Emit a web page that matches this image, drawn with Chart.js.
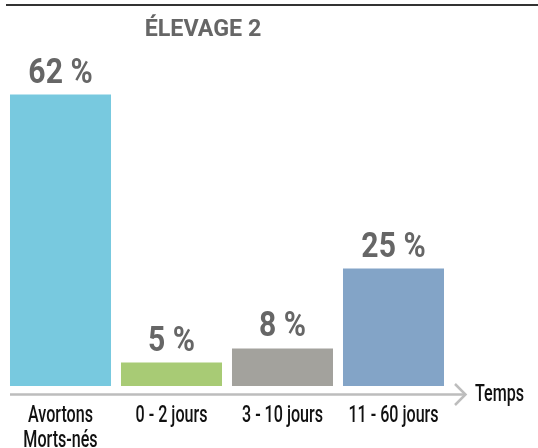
<!DOCTYPE html>
<html>
<head>
<meta charset="utf-8">
<script src="https://cdn.jsdelivr.net/npm/chart.js@4/dist/chart.umd.min.js"></script>
<style>
    html, body { margin: 0; padding: 0; background: #fff; }
    #wrap { width: 538px; height: 448px; position: relative; }
</style>
</head>
<body>
<div id="wrap"><canvas id="chart" width="538" height="448"></canvas></div>
<script>
const categories = [['Avortons', 'Morts-nés'], '0 - 2 jours', '3 - 10 jours', '11 - 60 jours']
const values = [62, 5, 8, 25]
const barColors = ['#78c9df', '#a8cb75', '#a3a29d', '#83a4c7']
const chartTitle = 'ÉLEVAGE 2'
const axisName = 'Temps'

// the original uses a condensed DIN-like face, so squeeze a normal one
function condensedText(ctx, text, x, y, squeeze) {
    ctx.save()
    ctx.translate(x, y)
    ctx.scale(squeeze, 1)
    ctx.fillText(text, 0, 0)
    ctx.restore()
}

const decorations = {
    id: 'decorations',
    afterDraw(chart) {
        const ctx = chart.ctx
        const area = chart.chartArea
        const xScale = chart.scales.x
        ctx.save()

        // rule across the top
        ctx.fillStyle = '#333'
        ctx.fillRect(6, 4, 532, 2)

        ctx.fillStyle = '#666'
        ctx.font = 'bold 24px Roboto, sans-serif'
        ctx.textAlign = 'center'
        ctx.textBaseline = 'alphabetic'
        condensedText(ctx, chartTitle, 203, 36, 0.97)

        // arrow axis
        const y = 394.5
        ctx.strokeStyle = '#bdbdbd'
        ctx.lineWidth = 2.5
        ctx.beginPath()
        ctx.moveTo(area.left + 5, y)
        ctx.lineTo(465, y)
        ctx.stroke()
        ctx.beginPath()
        ctx.moveTo(455, y - 10.5)
        ctx.lineTo(465.5, y)
        ctx.lineTo(455, y + 10.5)
        ctx.stroke()

        ctx.fillStyle = '#111'
        ctx.font = '500 23px Roboto, sans-serif'
        ctx.textAlign = 'left'
        condensedText(ctx, axisName, 475, 401, 0.7)

        // category labels under the bars
        ctx.textAlign = 'center'
        categories.forEach((label, i) => {
            const lines = Array.isArray(label) ? label : [label]
            const cx = xScale.getPixelForValue(i)
            lines.forEach((line, k) => {
                condensedText(ctx, line, cx, 422 + k * 25, 0.7)
            })
        })

        // value labels
        ctx.fillStyle = '#666'
        ctx.font = 'bold 35px Roboto, sans-serif'
        chart.getDatasetMeta(0).data.forEach((bar, i) => {
            condensedText(ctx, values[i] + ' %', bar.x, bar.y - 12, 0.86)
        })
        ctx.restore()
    }
}

new Chart(document.getElementById('chart').getContext('2d'), {
    type: 'bar',
    data: {
        labels: categories,
        datasets: [{
            data: values,
            backgroundColor: barColors,
            borderWidth: 0,
            categoryPercentage: 0.91,
            barPercentage: 1
        }]
    },
    options: {
        responsive: false,
        animation: false,
        layout: { padding: { left: 5, right: 89, top: 57, bottom: 62 } },
        plugins: {
            legend: { display: false },
            tooltip: { enabled: false }
        },
        scales: {
            y: { display: false, min: 0, max: 70 },
            x: { display: false }
        }
    },
    plugins: [decorations]
})
</script>
</body>
</html>
